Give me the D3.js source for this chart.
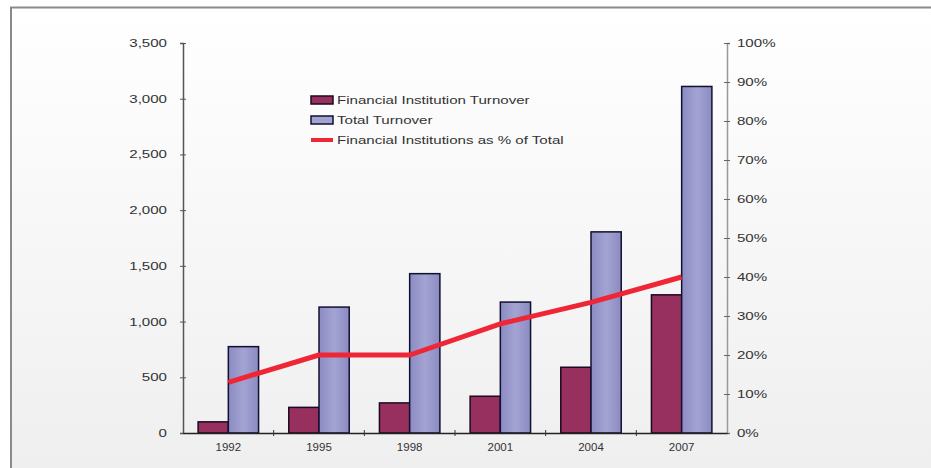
<!DOCTYPE html>
<html>
<head>
<meta charset="utf-8">
<script src="https://cdn.jsdelivr.net/npm/d3@7/dist/d3.min.js"></script>
<style>
  html, body { margin: 0; padding: 0; background: #fff; }
  svg { display: block; }
  text { font-family: "Liberation Sans", Arial, sans-serif; fill: #333; }
</style>
</head>
<body>
<script>
const years = ['1992', '1995', '1998', '2001', '2004', '2007'];
const financialTurnover = [100, 230, 270, 330, 590, 1240];
const totalTurnover = [775, 1130, 1430, 1175, 1805, 3110];
const financialShare = [0.13, 0.20, 0.20, 0.28, 0.335, 0.40];
const leftTicks = [0, 500, 1000, 1500, 2000, 2500, 3000, 3500];
const rightTicks = [0, 0.1, 0.2, 0.3, 0.4, 0.5, 0.6, 0.7, 0.8, 0.9, 1];
const legendItems = ['Financial Institution Turnover', 'Total Turnover', 'Financial Institutions as % of Total'];

const width = 931;
const height = 468;
const plot = { left: 183, right: 727, top: 43, bottom: 433 };
// the source image is stretched sideways, so the labels are too
const stretch = 1.37;

const svg = d3.select('body')
  .append('svg')
    .attr('width', width)
    .attr('height', height);

const defs = svg.append('defs');

const bg = defs.append('linearGradient')
  .attr('id', 'bg')
  .attr('x1', 0).attr('y1', 0).attr('x2', 0).attr('y2', 1);
bg.append('stop').attr('offset', '0%').attr('stop-color', '#ffffff');
bg.append('stop').attr('offset', '100%').attr('stop-color', '#efefef');

const lightBar = defs.append('linearGradient')
  .attr('id', 'lightBar')
  .attr('x1', 0).attr('y1', 0).attr('x2', 1).attr('y2', 0);
lightBar.append('stop').attr('offset', '0%').attr('stop-color', '#8b8bc2');
lightBar.append('stop').attr('offset', '50%').attr('stop-color', '#a3a3d3');
lightBar.append('stop').attr('offset', '100%').attr('stop-color', '#8b8bc2');

// frame
svg.append('rect')
  .attr('x', 10).attr('y', 7)
  .attr('width', width - 10).attr('height', height - 7)
  .attr('fill', 'url(#bg)');

svg.append('path')
  .attr('d', `M11,${height}V7.5H${width}`)
  .attr('fill', 'none')
  .attr('stroke', '#8a8a8a')
  .attr('stroke-width', 2);

const x = d3.scaleBand()
  .domain(years)
  .range([plot.left, plot.right]);

const y = d3.scaleLinear()
  .domain([0, 3500])
  .range([plot.bottom, plot.top]);

const yPct = d3.scaleLinear()
  .domain([0, 1])
  .range([plot.bottom, plot.top]);

const barW = x.bandwidth() / 3;

// bars
const groups = svg.append('g')
  .selectAll('g')
  .data(years)
  .enter()
    .append('g');

groups.append('rect')
  .attr('x', d => x(d) + barW / 2)
  .attr('y', (d, i) => y(financialTurnover[i]))
  .attr('width', barW)
  .attr('height', (d, i) => plot.bottom - y(financialTurnover[i]))
  .attr('fill', '#98305f')
  .attr('stroke', '#1a0a20')
  .attr('stroke-width', 1.5);

groups.append('rect')
  .attr('x', d => x(d) + barW * 1.5)
  .attr('y', (d, i) => y(totalTurnover[i]))
  .attr('width', barW)
  .attr('height', (d, i) => plot.bottom - y(totalTurnover[i]))
  .attr('fill', 'url(#lightBar)')
  .attr('stroke', '#101030')
  .attr('stroke-width', 1.5);

// share line
const line = d3.line()
  .x((d, i) => x(years[i]) + x.bandwidth() / 2)
  .y(d => yPct(d));

svg.append('path')
  .datum(financialShare)
  .attr('d', line)
  .attr('fill', 'none')
  .attr('stroke', '#ee2636')
  .attr('stroke-width', 5)
  .attr('stroke-linejoin', 'round');

// left axis
const leftAxis = svg.append('g')
  .attr('transform', `translate(${plot.left},0)`)
  .call(d3.axisLeft(y)
    .tickValues(leftTicks)
    .tickSize(3)
    .tickFormat(d3.format(',')));
leftAxis.select('.domain').attr('stroke', '#555').attr('stroke-width', 1.5);
leftAxis.selectAll('.tick line').attr('x2', -3).attr('x1', 3).attr('stroke', '#555');
leftAxis.selectAll('text')
  .attr('x', -16 / stretch)
  .attr('transform', `scale(${stretch},1)`)
  .style('font-size', '11px')
  .attr('fill', '#2a2a2a');

// right axis
const rightAxis = svg.append('g')
  .attr('transform', `translate(${plot.right},0)`)
  .call(d3.axisRight(yPct)
    .tickValues(rightTicks)
    .tickSize(3)
    .tickFormat(d3.format('.0%')));
rightAxis.select('.domain').attr('stroke', '#999').attr('stroke-width', 1.5);
rightAxis.selectAll('.tick line').attr('x1', -3).attr('x2', 3).attr('stroke', '#666');
rightAxis.selectAll('text')
  .attr('x', 10 / stretch)
  .attr('transform', `scale(${stretch},1)`)
  .style('font-size', '11px')
  .attr('fill', '#2a2a2a');

// x axis
const xAxis = svg.append('g')
  .attr('transform', `translate(0,${plot.bottom})`)
  .call(d3.axisBottom(x).tickSize(0).tickPadding(10));
xAxis.select('.domain').attr('stroke', '#222').attr('stroke-width', 1.5);
xAxis.selectAll('text').style('font-size', '11.5px').attr('fill', '#2a2a2a');

xAxis.selectAll('.sep')
  .data(years.slice(1))
  .enter()
    .append('line')
      .attr('class', 'sep')
      .attr('x1', d => x(d))
      .attr('x2', d => x(d))
      .attr('y1', -3)
      .attr('y2', 3)
      .attr('stroke', '#333');

// legend
const legend = svg.append('g')
  .attr('transform', 'translate(311,100)');

const legendRow = legend.selectAll('g')
  .data(legendItems)
  .enter()
    .append('g')
      .attr('transform', (d, i) => `translate(0,${i * 20})`);

legendRow.filter((d, i) => i < 2)
  .append('rect')
    .attr('x', 0)
    .attr('y', -4)
    .attr('width', 22)
    .attr('height', 8)
    .attr('fill', (d, i) => i === 0 ? '#98305f' : '#a3a3d3')
    .attr('stroke', (d, i) => i === 0 ? '#1a0a20' : '#101030')
    .attr('stroke-width', 1.5);

legendRow.filter((d, i) => i === 2)
  .append('line')
    .attr('x1', 0)
    .attr('x2', 22)
    .attr('stroke', '#ee2636')
    .attr('stroke-width', 4);

legendRow.append('text')
  .attr('x', 26 / stretch)
  .attr('dy', '0.35em')
  .attr('transform', `scale(${stretch},1)`)
  .style('font-size', '11px')
  .attr('fill', '#2a2a2a')
  .text(d => d);
</script>
</body>
</html>
